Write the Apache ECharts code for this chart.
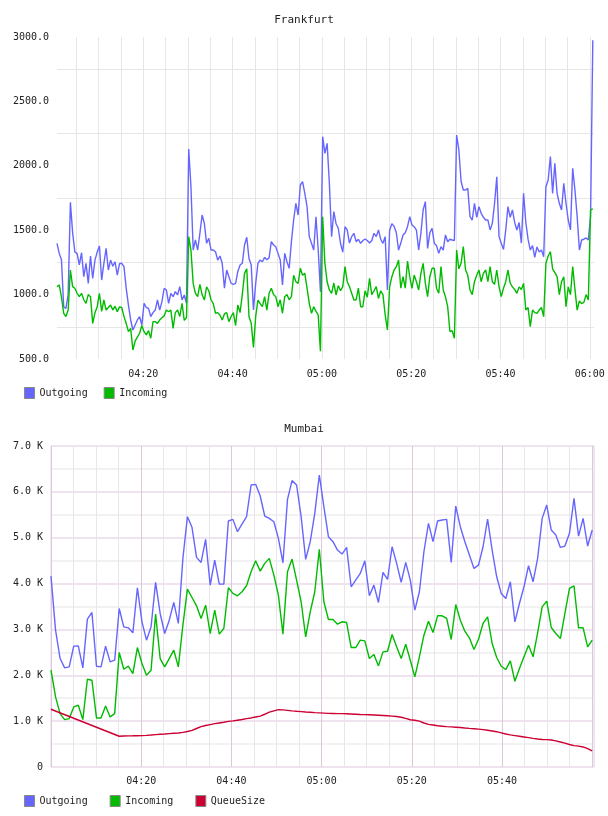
<!DOCTYPE html>
<html><head><meta charset="utf-8">
<script src="https://cdn.jsdelivr.net/npm/echarts@6/dist/echarts.min.js"></script>
<style>html,body{margin:0;padding:0;background:#fff}#c{width:608px;height:816px}</style>
</head><body><div id="c"></div>
<script>
// ---------------- Frankfurt (samples every 30 s, starting 04:00:40) ----------------
const fraStartMin = 0.67;   // minutes after 04:00 of first sample
const fraStepMin = 0.5;
const fraEndMin = 120.94;
const fraOutgoing = [
1398,1320,1270,906,893,1000,1716,1480,1330,1320,
1230,1325,1140,1243,1087,1300,1126,1268,1330,1377,
1113,1243,1359,1191,1268,1220,1255,1152,1240,1243,
1217,1049,919,803,725,764,803,829,764,932,
900,893,829,860,880,958,880,945,1049,1036,
932,1010,984,1023,997,1062,958,997,932,2130,
1838,1346,1424,1346,1476,1618,1553,1398,1437,1346,
1346,1333,1268,1300,1243,1050,1191,1139,1087,1080,
1087,1180,1230,1243,1385,1445,1280,1230,880,1087,
1243,1268,1255,1289,1270,1285,1411,1385,1372,1320,
1268,1075,1320,1255,1204,1411,1579,1709,1618,1851,
1877,1786,1683,1450,1398,1346,1605,1350,1023,2226,
2097,2174,1864,1450,1644,1550,1515,1398,1330,1527,
1502,1400,1450,1476,1411,1430,1398,1420,1430,1420,
1400,1420,1476,1450,1502,1430,1398,1450,1036,1500,
1550,1530,1480,1346,1400,1463,1480,1527,1605,1540,
1527,1500,1346,1476,1657,1722,1359,1480,1515,1398,
1380,1320,1372,1346,1463,1411,1430,1424,1420,2239,
2123,1880,1812,1812,1825,1605,1579,1709,1600,1683,
1631,1600,1579,1580,1502,1553,1709,1915,1450,1398,
1350,1502,1683,1600,1657,1560,1502,1560,1400,1786,
1560,1430,1346,1380,1290,1370,1330,1346,1294,1838,
1890,2071,1786,2019,1786,1709,1657,1864,1709,1579,
1502,1980,1812,1605,1346,1424,1430,1440,1424,1605,
2975];
const fraIncoming = [
1062,1075,980,855,830,880,1191,1062,1049,1010,
984,1010,960,932,1000,984,777,860,906,1010,
870,958,880,900,919,880,910,867,905,900,
829,777,712,738,570,640,670,700,760,712,
687,720,661,790,790,777,803,820,835,880,
867,880,738,860,880,830,932,800,820,1450,
1346,1087,1010,984,1080,1000,958,1060,1030,960,
930,855,860,840,803,850,860,790,830,860,
760,919,860,1000,1165,1200,830,777,590,830,
958,930,906,984,880,1010,1050,1000,984,906,
960,855,984,1000,960,984,1150,1100,1087,1204,
1150,1165,1050,932,855,906,870,842,560,1605,
1243,1100,1036,1010,1090,997,1070,1030,1062,1217,
1100,1062,1010,958,960,1050,906,906,1030,980,
1126,1000,1030,1062,970,1030,1000,842,725,1062,
1139,1191,1217,1268,1050,1139,1050,1260,1139,1049,
1152,1100,1036,1165,1243,1087,984,1139,1204,1204,
1050,1010,1217,1036,984,906,712,720,661,1346,
1200,1243,1372,1191,1150,1036,1000,1100,1150,1191,
1100,1165,1191,1100,1217,1100,1080,1191,1060,984,
1050,1100,1191,1090,1060,1040,1010,1060,1040,1087,
880,900,751,880,860,855,880,900,829,1243,
1300,1333,1200,1170,1139,1000,1100,1139,906,1060,
1000,1217,1040,880,950,930,940,1000,958,1657,
1665];
const fraYTicks = [500, 1000, 1500, 2000, 2500, 3000];
const fraGridMinutes = [5,10,15,20,25,30,35,40,45,50,55,60,65,70,75,80,85,90,95,100,105,110,115,120];
const fraLabelMinutes = [20, 40, 60, 80, 100, 120];

// ---------------- Mumbai (one sample per minute, 04:00 - 06:00) ----------------
const mumStartMin = 0;
const mumEndMin = 120;
const mumAxisEndMin = 120.4;
const mumOutgoing = [
4163,2984,2365,2162,2183,2635,2642,2162,3224,3370,
2198,2183,2635,2293,2329,3457,3057,3035,2926,3908,
3166,2766,3057,4025,3348,2911,3202,3588,3130,4549,
5459,5226,4571,4461,4964,3966,4512,3988,3988,5364,
5400,5131,5298,5459,6150,6164,5910,5473,5422,5349,
4985,4454,5837,6245,6150,5459,4527,4913,5531,6368,
5677,5022,4913,4731,4643,4789,3930,4076,4221,4498,
3734,3966,3588,4243,4090,4803,4440,4025,4461,4076,
3421,3821,4694,5313,4913,5364,5386,5400,4461,5691,
5240,4913,4621,4330,4403,4803,5407,4731,4148,3785,
3675,4039,3166,3566,3930,4389,4039,4549,5422,5713,
5167,5058,4789,4818,5095,5859,5036,5422,4818,5167];
const mumIncoming = [
2111,1528,1164,1033,1055,1310,1346,1033,1914,1892,
1070,1070,1332,1092,1164,2496,2132,2198,2038,2605,
2256,2001,2111,3333,2365,2183,2365,2547,2183,3093,
3879,3697,3515,3239,3530,2911,3421,2897,3020,3908,
3785,3734,3821,3952,4258,4498,4272,4440,4549,4185,
3748,2897,4258,4534,4076,3603,2838,3384,3821,4745,
3603,3217,3217,3115,3166,3151,2605,2605,2766,2751,
2365,2453,2205,2511,2525,2889,2620,2365,2678,2329,
1965,2402,2875,3180,2933,3297,3297,3239,2780,3544,
3202,2962,2817,2562,2787,3130,3275,2693,2387,2198,
2125,2314,1870,2147,2402,2656,2402,2926,3493,3617,
3042,2911,2802,3348,3894,3952,3035,3035,2620,2766];
const mumQueueSize = [
1259,null,null,null,null,null,null,null,null,null,
null,null,null,null,null,670,675,678,680,683,
684,690,697,705,713,720,728,735,742,755,
775,800,840,880,905,925,945,960,975,995,
1005,1020,1035,1055,1070,1090,1110,1150,1195,1225,
1250,1245,1235,1223,1215,1208,1200,1195,1185,1180,
1175,1170,1168,1165,1163,1160,1155,1150,1145,1142,
1138,1133,1128,1123,1118,1110,1100,1085,1060,1030,
1020,1000,960,930,915,900,890,880,875,868,
860,850,842,835,825,815,800,785,770,745,
720,700,685,670,655,640,625,612,600,597,
590,570,545,520,490,465,455,437,400,349];
const mumLabelMinutes = [20, 40, 60, 80, 100];

// ---------------- build ----------------
const FONT = 'DejaVu Sans Mono';
const BLUE = '#6666ff', GREEN = '#00bb00', RED = '#cc0033';
function hhmm(m) {
  const h = 4 + Math.floor(m / 60), mm = Math.round(m % 60);
  return String(h).padStart(2, '0') + ':' + String(mm).padStart(2, '0');
}
const fraTimes = fraOutgoing.map((_, i) => fraStartMin + i * fraStepMin);
const mumTimes = mumOutgoing.map((_, i) => mumStartMin + i * (mumEndMin - mumStartMin) / (mumOutgoing.length - 1));
const pairs = (ts, vs) => vs.map((v, i) => [ts[i], v]).filter(p => p[1] !== null);

const lineSeries = (name, xi, data, color) => ({
  name, type: 'line', xAxisIndex: xi, yAxisIndex: xi, data,
  symbol: 'none', showSymbol: false, connectNulls: true,
  lineStyle: { color, width: 1.4 }, itemStyle: { color }, z: 3
});

const chart = echarts.init(document.getElementById('c'), null, { renderer: 'canvas' });
chart.setOption({
  animation: false,
  backgroundColor: '#fff',
  textStyle: { fontFamily: FONT },
  title: [
    { text: 'Frankfurt', left: 'center', top: 15, padding: 0,
      textStyle: { fontFamily: FONT, fontSize: 11, fontWeight: 'normal', color: '#222' } },
    { text: 'Mumbai', left: 'center', top: 424, padding: 0,
      textStyle: { fontFamily: FONT, fontSize: 11, fontWeight: 'normal', color: '#222' } }
  ],
  legend: [
    { data: ['Outgoing', 'Incoming'], left: 24, top: 387, padding: 0, icon: 'rect',
      itemWidth: 10, itemHeight: 11, itemGap: 16, selectedMode: false,
      itemStyle: { borderColor: '#888', borderWidth: 1 },
      textStyle: { fontFamily: FONT, fontSize: 10, color: '#222' } },
    { data: ['Outgoing', 'Incoming', 'QueueSize'], left: 24, top: 795, padding: 0, icon: 'rect',
      itemWidth: 10, itemHeight: 11, itemGap: 22, selectedMode: false,
      itemStyle: { borderColor: '#888', borderWidth: 1 },
      textStyle: { fontFamily: FONT, fontSize: 10, color: '#222' } }
  ],
  grid: [
    { left: 57, top: 37, width: 537, height: 322, show: false },
    { left: 51, top: 446, width: 543, height: 321, show: true,
      borderColor: '#e4d4e4', borderWidth: 1, backgroundColor: 'transparent' }
  ],
  xAxis: [
    { type: 'value', gridIndex: 0, min: fraStartMin, max: fraEndMin,
      axisLine: { show: false },
      axisTick: { show: false, customValues: fraGridMinutes },
      axisLabel: { customValues: fraLabelMinutes, formatter: hhmm, margin: 10,
        fontFamily: FONT, fontSize: 10, color: '#222' },
      splitLine: { show: true, lineStyle: { color: '#e6e6e6', width: 1 } } },
    { type: 'value', gridIndex: 1, min: mumStartMin, max: mumAxisEndMin, interval: 5,
      axisLine: { show: false }, axisTick: { show: false },
      axisLabel: { formatter: v => mumLabelMinutes.includes(v) ? hhmm(v) : '', margin: 9,
        fontFamily: FONT, fontSize: 10, color: '#222', showMinLabel: true, showMaxLabel: true },
      splitLine: { show: true, lineStyle: { color: ['#dcc8dc', '#ece4ec', '#ece4ec', '#ece4ec'], width: 1 } } }
  ],
  yAxis: [
    { type: 'value', gridIndex: 0, min: fraYTicks[0], max: fraYTicks[fraYTicks.length - 1], interval: 500,
      axisLine: { show: false }, axisTick: { show: false },
      axisLabel: { formatter: v => v.toFixed(1), margin: 8, fontFamily: FONT, fontSize: 10, color: '#222' },
      splitLine: { show: false },
      minorTick: { show: false, splitNumber: 2 },
      minorSplitLine: { show: true, lineStyle: { color: '#e6e6e6', width: 1 } } },
    { type: 'value', gridIndex: 1, min: 0, max: 7000, interval: 500,
      axisLine: { show: false }, axisTick: { show: false },
      axisLabel: { formatter: v => v % 1000 !== 0 ? '' : (v === 0 ? '0' : (v / 1000).toFixed(1) + ' K'),
        margin: 8, fontFamily: FONT, fontSize: 10, color: '#222' },
      splitLine: { show: true, lineStyle: { color: ['#efe3ef', '#f2f2f2'], width: 2 } } }
  ],
  series: [
    lineSeries('Outgoing', 0, pairs(fraTimes, fraOutgoing), BLUE),
    lineSeries('Incoming', 0, pairs(fraTimes, fraIncoming), GREEN),
    lineSeries('Outgoing', 1, pairs(mumTimes, mumOutgoing), BLUE),
    lineSeries('Incoming', 1, pairs(mumTimes, mumIncoming), GREEN),
    lineSeries('QueueSize', 1, pairs(mumTimes, mumQueueSize), RED)
  ]
});
</script>
</body></html>
